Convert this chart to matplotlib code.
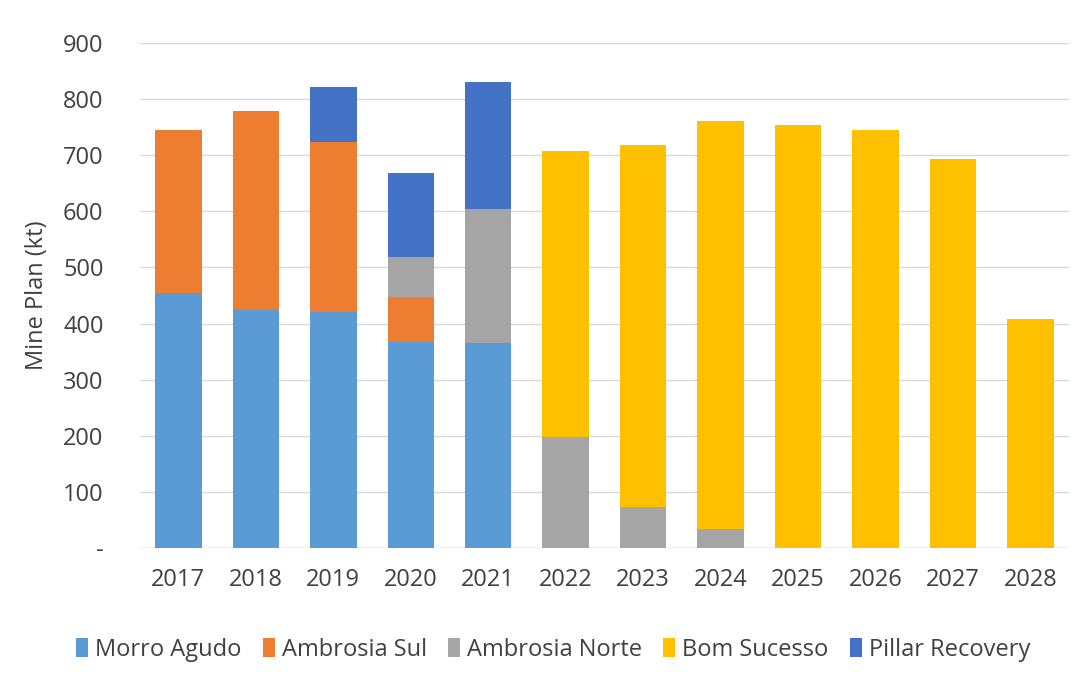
import matplotlib
matplotlib.use('Agg')
import matplotlib.pyplot as plt
import numpy as np

years = ['2017', '2018', '2019', '2020', '2021', '2022', '2023', '2024', '2025', '2026', '2027', '2028']
morro_agudo = [455, 424, 421, 367, 365, 0, 0, 0, 0, 0, 0, 0]
ambrosia_sul = [290, 355, 303, 80, 0, 0, 0, 0, 0, 0, 0, 0]
ambrosia_norte = [0, 0, 0, 72, 239, 198, 73, 34, 0, 0, 0, 0]
bom_sucesso = [0, 0, 0, 0, 0, 510, 645, 727, 754, 745, 693, 408]
pillar_recovery = [0, 0, 98, 149, 227, 0, 0, 0, 0, 0, 0, 0]

series = [('Morro Agudo', morro_agudo, '#5B9BD5'),
          ('Ambrosia Sul', ambrosia_sul, '#ED7D31'),
          ('Ambrosia Norte', ambrosia_norte, '#A5A5A5'),
          ('Bom Sucesso', bom_sucesso, '#FFC000'),
          ('Pillar Recovery', pillar_recovery, '#4472C4')]

plt.rcParams['font.family'] = ['Open Sans', 'DejaVu Sans']
fig = plt.figure(figsize=(10.91, 6.81), dpi=100)
ax = fig.add_axes([0.128, 0.195, 0.852, 0.742])
x = np.arange(len(years))
bottom = np.zeros(len(years))
for name, vals, col in series:
    v = np.array(vals, dtype=float)
    ax.bar(x, v, 0.6, bottom=bottom, color=col, label=name, zorder=3)
    bottom += v

ax.set_ylim(0, 900)
ax.set_xlim(-0.5, len(years) - 0.5)
ax.set_yticks(range(0, 1000, 100))
ax.set_yticklabels(['-'] + [str(v) for v in range(100, 1000, 100)])
ax.set_xticks(x)
ax.set_xticklabels(years)
ax.tick_params(axis='both', length=0, labelsize=17, colors='#404040', pad=14)
ax.tick_params(axis='y', pad=26)
ax.grid(axis='y', color='#D9D9D9', linewidth=1, zorder=0)
for s in ax.spines.values():
    s.set_visible(False)
ax.axhline(0, color='#D9D9D9', linewidth=1, zorder=2)
ax.set_ylabel('Mine Plan (kt)', fontsize=17, color='#404040', labelpad=10)
ax.legend(loc='upper center', bbox_to_anchor=(0.445, -0.135), ncol=5, frameon=False,
          fontsize=17, handlelength=0.5, handleheight=0.9, handletextpad=0.3, columnspacing=0.9,
          labelcolor='#404040')
fig.savefig('out.png', dpi=100)
